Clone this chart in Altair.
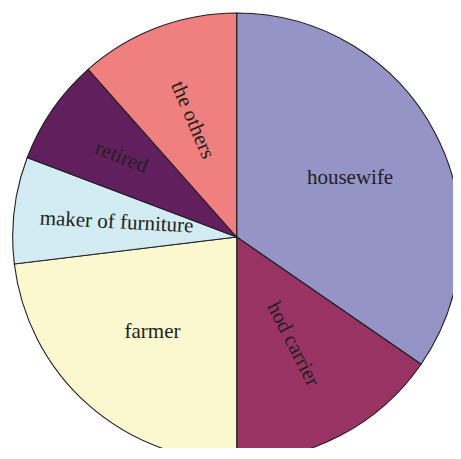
import altair as alt
import pandas as pd

categories = ["housewife", "hod carrier", "farmer", "maker of furniture", "retired", "the others"]
counts = [9, 4, 6, 2, 2, 3]
colors = ["#9494c6", "#983364", "#fbf8d0", "#d3ebf3", "#611f5e", "#f07f80"]

# label styling (radial distance in px, text rotation in degrees)
label_radius = [128, 121, 127, 121, 140, 125]
label_angle = [0, 63, 0, 3, 22, 67]

df = pd.DataFrame({
    "category": categories,
    "count": counts,
    "order": list(range(len(categories))),
    "lr": label_radius,
    "la": label_angle,
})

cx, cy = 228.7, 229.0

pie = alt.Chart(df).mark_arc(radius=224, stroke="#231f20", strokeWidth=1.1).encode(
    theta=alt.Theta("count:Q", stack=True),
    order=alt.Order("order:Q", sort="ascending"),
    color=alt.Color("category:N", scale=alt.Scale(domain=categories, range=colors), legend=None),
    x=alt.value(cx),
    y=alt.value(cy),
)

labels = alt.Chart(df).transform_window(
    cum="sum(count)", sort=[alt.SortField("order", order="ascending")]
).transform_calculate(
    mid="datum.cum - datum.count / 2"
).mark_text(
    font="Liberation Serif", fontSize=21, color="#231f20", align="center", baseline="middle"
).encode(
    theta=alt.Theta("mid:Q", stack=None),
    text="category:N",
    radius=alt.Radius("lr:Q", scale=None),
    angle=alt.Angle("la:Q", scale=None),
    x=alt.value(cx),
    y=alt.value(cy),
)

chart = alt.layer(pie, labels).properties(
    width=445, height=440, padding=0, autosize=alt.AutoSizeParams(type="none")
).configure_view(stroke=None)

chart.save("out.html", embed_options={"renderer": "svg", "actions": False})
